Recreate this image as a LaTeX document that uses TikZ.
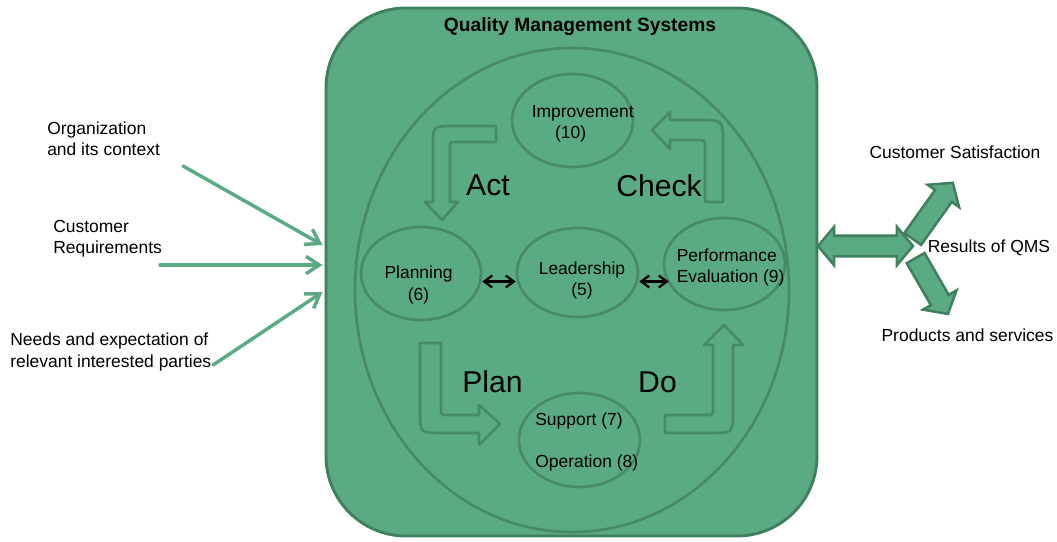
\documentclass[tikz,border=0pt]{standalone}
\usepackage{fontspec}
\setmainfont{Liberation Sans}
\usetikzlibrary{arrows.meta,shapes.geometric,shapes.arrows}

\definecolor{qmsfill}{RGB}{90,171,131}
\definecolor{qmsedge}{RGB}{64,128,94}
\definecolor{qmsline}{RGB}{72,138,104}

\newcommand{\smalltxt}{\fontsize{13.1}{16}\selectfont}
\newcommand{\bigtxt}{\fontsize{22.6}{26}\selectfont}

\begin{document}
\begin{tikzpicture}[x=0.75pt,y=-0.75pt,
  box/.style={draw=qmsedge,fill=qmsfill,line width=2.2pt,rounded corners=60pt,inner sep=0pt},
  blob/.style={ellipse,draw=qmsline,line width=2pt,inner sep=0pt},
  txt/.style={font=\smalltxt,inner sep=0pt},
  cyc/.style={font=\bigtxt,inner sep=0pt,anchor=base},
  hollow/.style={draw=qmsline,line width=2pt,line join=round},
  feed/.style={draw=qmsfill,line width=2.6pt,line cap=round,-{Straight Barb[length=10pt,width=13pt]}},
  link/.style={line width=1.7pt,{Straight Barb[length=6pt,width=9pt]}-{Straight Barb[length=6pt,width=9pt]}},
  block/.style={draw=qmsedge,fill=qmsfill,line width=1.9pt,inner xsep=0pt,inner ysep=6.75pt}]

\useasboundingbox (0,0) rectangle (1057,542);

% frame and ring
\node[box,minimum width=368.25pt,minimum height=396pt] (qms) at (571.5,272) {};
\node[font=\bfseries\fontsize{14.4}{17}\selectfont,inner sep=0pt,anchor=base] (title) at (580,31.5) {Quality Management Systems};
\node[blob,minimum width=325.5pt,minimum height=363pt] (ring) at (572,290) {};

% clauses
\node[blob,minimum width=90.75pt,minimum height=69.75pt] (impr) at (572.5,120.5) {};
\node[blob,minimum width=90pt,minimum height=69.75pt] (plan) at (421,273.5) {};
\node[blob,minimum width=90.75pt,minimum height=66.75pt] (lead) at (577.5,272.5) {};
\node[blob,minimum width=90.75pt,minimum height=69pt] (perf) at (724.5,264) {};
\node[blob,minimum width=90.75pt,minimum height=70.5pt] (supp) at (579.5,440) {};

\node[txt,anchor=west,align=left] (impr-t) at (531.5,124) {Improvement\\\hspace*{17.5pt}(10)};
\node[txt,align=center] (plan-t) at (418.5,285) {Planning\\(6)};
\node[txt,align=center] (lead-t) at (582,280.5) {Leadership\\(5)};
\node[txt,anchor=west,align=left] (perf-t) at (676.5,267.5) {Performance\\Evaluation (9)};
\node[txt,anchor=west,align=left] (supp-t) at (535,442) {Support (7)\\[16pt]Operation (8)};

\draw[link] ([shift={(0,8)}]plan.east) -- ([shift={(0,9)}]lead.west);
\draw[link] ([shift={(0,9)}]lead.east) -- ([shift={(6,17.5)}]perf.west);

% PDCA
\node[cyc] (act) at (488,195) {Act};
\node[cyc] (check) at (659,196) {Check};
\node[cyc] (plan-l) at (492.5,392) {Plan};
\node[cyc] (do) at (657.5,392) {Do};

\draw[hollow] (496,126) -- (453,126) .. controls (433,126) .. (433,146) -- (433,202) -- (425,202)
  -- (442,220) -- (458,202) -- (450,202) -- (450,148) .. controls (450,142) .. (456,142) -- (496,142) -- cycle;
\draw[hollow] (705,202) -- (705,147) .. controls (705,140) .. (698,140) -- (670,140) -- (670,149)
  -- (652,130) -- (670,112) -- (670,120) -- (700,120) .. controls (723,120) .. (723,143) -- (723,202) -- cycle;
\draw[hollow] (420,343) -- (441,343) -- (441,408) .. controls (441,415) .. (448,415) -- (479,415) -- (479,405)
  -- (500,424) -- (479,445) -- (479,433) -- (442,433) .. controls (420,433) .. (420,411) -- cycle;
\draw[hollow] (665,415) -- (706,415) .. controls (713,415) .. (713,408) -- (713,345) -- (704,345)
  -- (724,325) -- (743,345) -- (733,345) -- (733,411) .. controls (733,433) .. (711,433) -- (665,433) -- cycle;

% inputs
\node[txt,anchor=west,align=left] (org) at (47,139) {Organization\\and its context};
\node[txt,anchor=west,align=left] (req) at (53,239) {Customer\\Requirements};
\node[txt,anchor=west,align=left] (needs) at (10,352) {Needs and expectation of\\relevant interested parties};
\coordinate (org-src) at (183,166);
\coordinate (req-src) at (160,265);
\coordinate (needs-src) at (213,365);
\draw[feed] (org-src) -- ([shift={(-2,-27)}]qms.west);
\draw[feed] (req-src) -- ([shift={(-2,-7)}]qms.west);
\draw[feed] (needs-src) -- ([shift={(-2,20)}]qms.west);

% outputs
\node[block,double arrow,double arrow head extend=6.75pt,double arrow tip angle=100,minimum height=71.25pt] (res-arr) at (865.5,246) {};
\node[block,single arrow,single arrow head extend=6.75pt,single arrow tip angle=100,minimum height=51.75pt,rotate=54.5,anchor=tail] (sat-arr) at (912,240) {};
\node[block,single arrow,single arrow head extend=6.75pt,single arrow tip angle=100,minimum height=48.4pt,rotate=-60,anchor=tail] (prod-arr) at (915,257) {};

\node[txt] (sat) at (955,152) {Customer Satisfaction};
\node[txt] (res) at (989,248) {Results of QMS};
\node[txt] (prod) at (967.5,335) {Products and services};
\end{tikzpicture}
\end{document}
